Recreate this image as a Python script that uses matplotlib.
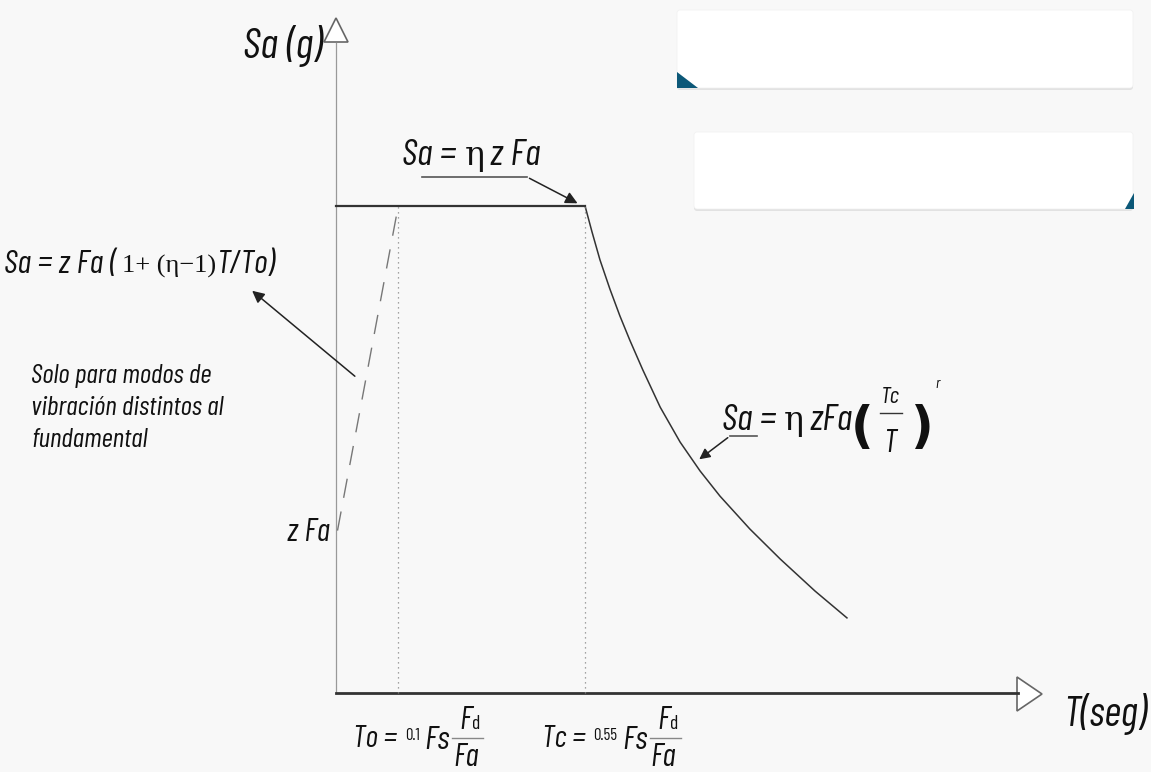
import numpy as np
import matplotlib.pyplot as plt
import matplotlib.transforms as mtransforms
from matplotlib.patches import FancyBboxPatch, Polygon

# Design spectrum (elastic response spectrum, schematic)
z_fa = 0.4          # z*Fa
eta = 3.0           # eta
T_o = 0.125         # To
T_c = 0.5           # Tc
sa_plateau = eta * z_fa

# descending branch
curve_T = [0.500, 0.514, 0.530, 0.550, 0.570, 0.590, 0.616, 0.651, 0.691,
           0.731, 0.771, 0.831, 0.892, 0.962, 1.026]
curve_Sa = [1.200, 1.136, 1.067, 0.995, 0.929, 0.869, 0.796, 0.704, 0.618,
            0.547, 0.485, 0.404, 0.330, 0.251, 0.185]

W, H = 1151, 772
fig = plt.figure(figsize=(W / 100, H / 100), dpi=100)
fig.patch.set_facecolor('#f8f8f8')
ax = fig.add_axes([0, 0, 1, 1])
ax.set_facecolor('none')
ax.axis('off')
# origin at pixel (336, 693), 498 px per second, 406 px per g
ax.set_xlim(-336 / 498, (W - 336) / 498)
ax.set_ylim((693 - H) / 406, 693 / 406)

# pixel transform (top-left origin) for the drawing decorations
pix = mtransforms.Affine2D().scale(1 / W, -1 / H).translate(0, 1) + fig.transFigure
rend = fig.canvas.get_renderer()

fnt = dict(family=['Barlow Condensed', 'DejaVu Sans'], style='italic', color='#111111')
serif = dict(family=['Liberation Serif', 'DejaVu Serif'], style='normal')
greek = dict(family=['DejaVu Serif'], style='normal')

def txt(x, y, s, size, **kw):
    opts = dict(fnt)
    opts.update(kw)
    return fig.text(x, y, s, transform=pix, fontsize=size, va='baseline', **opts)

def row(x, y, pieces):
    # pieces placed one after another: (text, size, gap after, y shift, extra kwargs)
    for s, size, gap, dy, kw in pieces:
        t = txt(x, y + dy, s, size, **kw)
        x += t.get_window_extent(rend).width + gap
    return x

# ---- white boxes at top right
for (x0, y0, x1, y1) in [(677, 10, 1133, 88), (694, 132, 1133, 209)]:
    ax.add_patch(FancyBboxPatch((x0, y0 + 2), x1 - x0, y1 - y0, boxstyle='round,pad=0,rounding_size=3',
                                transform=pix, fc='#e2e2e2', ec='none'))
    ax.add_patch(FancyBboxPatch((x0, y0), x1 - x0, y1 - y0, boxstyle='round,pad=0,rounding_size=3',
                                transform=pix, fc='white', ec='#f0f0f0', lw=0.5))
ax.add_patch(Polygon([(677, 72), (677, 88), (698, 88)], closed=True, transform=pix, fc='#0c5878', ec='none'))
ax.add_patch(Polygon([(1134, 193), (1134, 209), (1125, 209)], closed=True, transform=pix, fc='#0c5878', ec='none'))

# ---- axes
ax.plot([0, 0], [0, 1.60], color='#999999', lw=0.9)
ax.plot([0, 1.37], [0, 0], color='#333333', lw=2)
ax.add_patch(Polygon([(324, 42), (348, 42), (336, 18)], closed=True, transform=pix,
                     fc='white', ec='#666666', lw=1.2))
ax.add_patch(Polygon([(1017, 677), (1017, 711), (1042, 694)], closed=True, transform=pix,
                     fc='white', ec='#666666', lw=1.2))

# ---- spectrum
ax.plot([0, T_c], [sa_plateau, sa_plateau], color='#333333', lw=1.6)
ax.plot(curve_T, curve_Sa, color='#333333', lw=1.1)
ax.plot([0.003, T_o], [z_fa, sa_plateau], color='#777777', lw=1.0, dashes=(14, 10))
for tv in [T_o, T_c]:
    ax.plot([tv, tv], [0, sa_plateau], color='#888888', lw=0.9, dashes=(1, 3))

# ---- axis titles
txt(243, 58, 'Sa (g)', 31)
txt(1063, 726, 'T(seg)', 30)

# plateau label
row(402, 165, [('Sa =', 27, 9, 0, {}), ('η', 24, 5, 0, greek), ('z Fa', 27, 0, 0, {})])
ax.plot([422, 527], [177, 177], transform=pix, color='#555555', lw=1.2)
ax.annotate('', xy=(T_c - 0.01, sa_plateau + 0.003), xycoords='data', xytext=(527, 177), textcoords=pix,
            arrowprops=dict(arrowstyle='-|>', color='#222222', lw=1.1, mutation_scale=18))

# ascending branch label
row(4, 273, [('Sa = z Fa (', 24, 5, 0, {}), ('1+ (η−1)', 19, 1, 0, serif), ('T/To)', 24, 0, 0, {})])
ax.annotate('', xy=(250, 289), xycoords=pix, xytext=(357, 378), textcoords=pix,
            arrowprops=dict(arrowstyle='-|>', color='#222222', lw=1.1, mutation_scale=18))
for i, line in enumerate(['Solo para modos de', 'vibración distintos al', 'fundamental']):
    txt(31, 383 + 32 * i, line, 20)
txt(330, 541, 'z Fa', 23, ha='right')

# descending branch label
row(722, 430, [('Sa =', 27, 8, 0, {}), ('η', 24, 6, 0, greek), ('zFa', 27, 0, 0, {})])
txt(851, 442, '(', 36, family=['DejaVu Sans'], style='normal', fontweight='bold')
txt(890, 403, 'Tc', 17, ha='center')
ax.plot([880, 902], [413, 413], transform=pix, color='#333333', lw=1)
txt(890, 452, 'T', 23, ha='center')
txt(911, 442, ')', 36, family=['DejaVu Sans'], style='normal', fontweight='bold')
txt(935, 388, 'r', 11)
ax.plot([730, 757], [436, 436], transform=pix, color='#555555', lw=1.2)
ax.annotate('', xy=(697, 461), xycoords=pix, xytext=(730, 436), textcoords=pix,
            arrowprops=dict(arrowstyle='-|>', color='#222222', lw=1.1, mutation_scale=16))

# period labels under the T axis
for x0, name, coef in [(353, 'To =', '0.1'), (542, 'Tc =', '0.55')]:
    xl = row(x0, 747, [(name, 22, 8, 0, {}), (coef, 12, 5, -7, {'style': 'normal'}), ('Fs', 24, 2, 2, {})])
    ax.plot([xl, xl + 31], [738, 738], transform=pix, color='#888888', lw=1)
    row(xl + 8, 729, [('F', 23, 0, 0, {}), ('d', 14, 0, 0, {'style': 'normal'})])
    txt(xl + 14, 766, 'Fa', 23, ha='center')

fig.savefig('out.png', dpi=100, facecolor=fig.get_facecolor())
